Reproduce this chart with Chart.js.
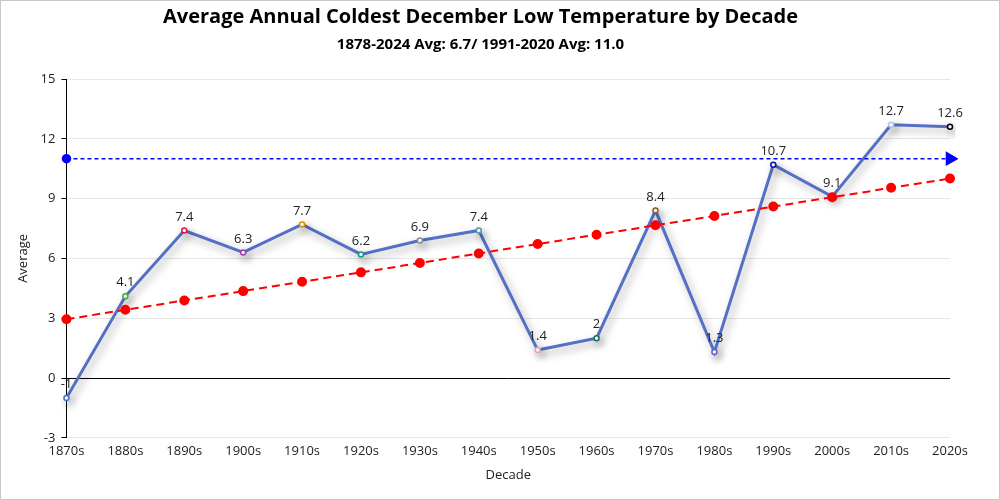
<!DOCTYPE html>
<html>
<head>
<meta charset="utf-8">
<script src="https://cdn.jsdelivr.net/npm/chart.js@4"></script>
<style>
  html, body { margin: 0; padding: 0; background: #fff; }
  #wrap { width: 1000px; height: 500px; box-sizing: border-box; border: 1px solid #c8c8c8; }
</style>
</head>
<body>
<div id="wrap"><canvas id="chart"></canvas></div>
<script>
// Decades and values
const decades = ['1870s', '1880s', '1890s', '1900s', '1910s', '1920s', '1930s', '1940s',
  '1950s', '1960s', '1970s', '1980s', '1990s', '2000s', '2010s', '2020s'];
const averages = [-1, 4.1, 7.4, 6.3, 7.7, 6.2, 6.9, 7.4, 1.4, 2, 8.4, 1.3, 10.7, 9.1, 12.7, 12.6];
const trend = [2.95, 3.42, 3.89, 4.36, 4.83, 5.30, 5.77, 6.25, 6.72, 7.19, 7.66, 8.13, 8.60, 9.07, 9.54, 10.01];
const normal = [11, 11, 11, 11, 11, 11, 11, 11, 11, 11, 11, 11, 11, 11, 11, 11];
const pointColors = ['#4a6fd1', '#3cb043', '#d0203f', '#a040b0', '#e08a00', '#139a8a', '#909090', '#4f9aa8',
  '#e8a0b0', '#1d6b66', '#8b5a2b', '#6a5acd', '#0010c0', '#ff0000', '#b8c0e8', '#000000'];
const yTicks = [-3, 0, 3, 6, 9, 12, 15];

const FONT = "'Open Sans', 'Noto Sans', sans-serif";

// soft shadow under the main line
const shadowPlugin = {
  id: 'shadow',
  beforeDatasetDraw(chart, args) {
    if (args.index !== 0) return;
    const ctx = chart.ctx;
    ctx.save();
    ctx.shadowColor = 'rgba(0,0,0,0.35)';
    ctx.shadowBlur = 8;
    ctx.shadowOffsetX = 3;
    ctx.shadowOffsetY = 4;
  },
  afterDatasetDraw(chart, args) {
    if (args.index !== 0) return;
    chart.ctx.restore();
  },
};

// value labels above the main series
const labelPlugin = {
  id: 'valueLabels',
  afterDatasetsDraw(chart) {
    const ctx = chart.ctx;
    const meta = chart.getDatasetMeta(0);
    ctx.save();
    ctx.font = `13px ${FONT}`;
    ctx.fillStyle = '#222';
    ctx.textAlign = 'center';
    ctx.textBaseline = 'bottom';
    meta.data.forEach((pt, i) => {
      ctx.fillText(String(averages[i]), pt.x, pt.y - 7);
    });
    ctx.restore();
  },
};

new Chart(document.getElementById('chart'), {
  type: 'line',
  data: {
    labels: decades,
    datasets: [
      {
        label: 'Average',
        data: averages,
        borderColor: '#5470c6',
        borderWidth: 3,
        pointRadius: 2.5,
        pointBorderWidth: 1.5,
        pointBackgroundColor: '#fff',
        pointBorderColor: pointColors,
        tension: 0,
        order: 3,
      },
      {
        label: '1991-2020 Avg',
        data: normal,
        borderColor: 'rgb(0,0,255)',
        borderWidth: 1.5,
        borderDash: [4, 3],
        backgroundColor: 'rgb(0,0,255)',
        pointBackgroundColor: 'rgb(0,0,255)',
        pointBorderColor: 'rgb(0,0,255)',
        pointRadius: normal.map((v, i) => (i === 0 ? 4 : i === normal.length - 1 ? 7 : 0)),
        pointStyle: normal.map((v, i) => (i === normal.length - 1 ? 'triangle' : 'circle')),
        rotation: normal.map((v, i) => (i === normal.length - 1 ? 90 : 0)),
        order: 2,
      },
      {
        label: 'Trend',
        data: trend,
        borderColor: '#ff0000',
        borderWidth: 2,
        borderDash: [8, 5],
        pointRadius: 4,
        pointBackgroundColor: '#ff0000',
        pointBorderColor: '#ff0000',
        order: 1,
      },
    ],
  },
  options: {
    responsive: true,
    maintainAspectRatio: false,
    animation: false,
    layout: { padding: { left: 10, right: 49, top: 0, bottom: 12 } },
    plugins: {
      legend: { display: false },
      tooltip: { enabled: false },
      title: {
        display: true,
        text: 'Average Annual Coldest December Low Temperature by Decade',
        color: '#000',
        font: { family: FONT, size: 20, weight: 'bold' },
        padding: { top: 4, bottom: 7 },
      },
      subtitle: {
        display: true,
        text: '1878-2024 Avg: 6.7/ 1991-2020 Avg: 11.0',
        color: '#000',
        font: { family: FONT, size: 15, weight: 'bold' },
        padding: { top: 0, bottom: 25 },
      },
    },
    scales: {
      x: {
        offset: false,
        grid: { display: false, drawTicks: false },
        border: { display: false },
        ticks: { color: '#222', font: { family: FONT, size: 13 }, maxRotation: 0, autoSkip: false, padding: 6 },
        title: { display: true, text: 'Decade', color: '#222', font: { family: FONT, size: 13 }, padding: { top: 2 } },
      },
      y: {
        min: -3,
        max: 15,
        afterBuildTicks: axis => { axis.ticks = yTicks.map(v => ({ value: v })); },
        grid: {
          color: ctx => (ctx.tick && ctx.tick.value === 0 ? '#000' : '#e6e6e6'),
          lineWidth: 1,
          drawTicks: true,
          tickColor: '#000',
          tickLength: 5,
        },
        border: { display: true, color: '#000', width: 1 },
        ticks: { color: '#222', font: { family: FONT, size: 13 }, padding: 6 },
        title: { display: true, text: 'Average', color: '#222', font: { family: FONT, size: 13 } },
      },
    },
  },
  plugins: [shadowPlugin, labelPlugin],
});
</script>
</body>
</html>
